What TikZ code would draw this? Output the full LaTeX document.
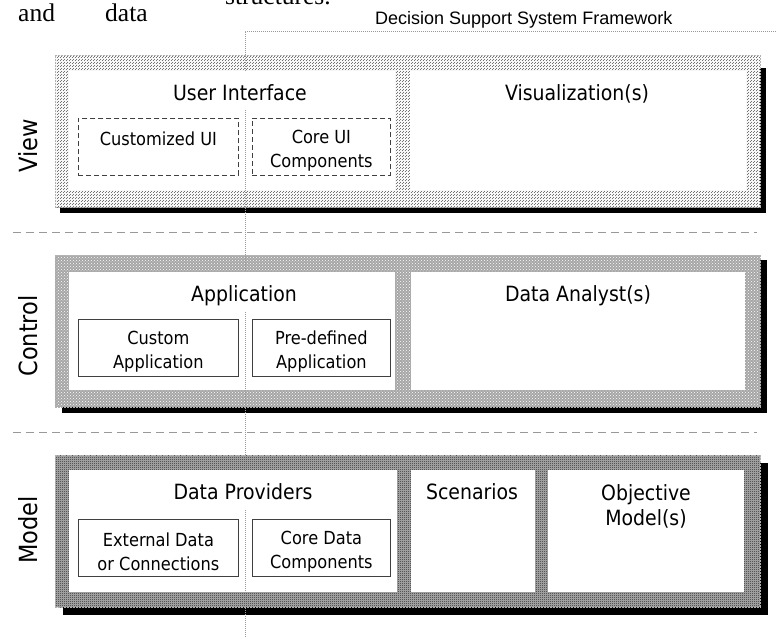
\documentclass[tikz,border=0pt]{standalone}
\usepackage{fontspec}
\setmainfont{DejaVu Sans}[FakeStretch=0.9]
\newfontfamily\serifA{Liberation Serif}
\newfontfamily\arialA{Liberation Sans}
\usetikzlibrary{patterns}
\pgfdeclarepatternformonly{finecheck}{\pgfqpoint{0pt}{0pt}}{\pgfqpoint{2pt}{2pt}}{\pgfqpoint{2pt}{2pt}}{%
  \pgfpathrectangle{\pgfqpoint{0pt}{0pt}}{\pgfqpoint{1pt}{1pt}}%
  \pgfpathrectangle{\pgfqpoint{1pt}{1pt}}{\pgfqpoint{1pt}{1pt}}%
  \pgfusepath{fill}}
\pgfdeclarepatternformonly{finedots}{\pgfqpoint{0pt}{0pt}}{\pgfqpoint{3pt}{3pt}}{\pgfqpoint{3pt}{3pt}}{%
  \pgfpathrectangle{\pgfqpoint{0pt}{0pt}}{\pgfqpoint{1pt}{1pt}}%
  \pgfpathrectangle{\pgfqpoint{1.5pt}{1.5pt}}{\pgfqpoint{1pt}{1pt}}%
  \pgfusepath{fill}}
\begin{document}
\begin{tikzpicture}[x=1pt,y=-1pt,
  shadowbox/.style={fill=black},
  layerbox/.style={draw=gray!60, line width=0.8pt, dash pattern=on 2pt off 1pt, minimum width=705pt, minimum height=152pt, anchor=north west, inner sep=0pt},
  viewfill/.style={preaction={fill=gray!6}, pattern=finedots, pattern color=black!55},
  ctrlfill/.style={preaction={fill=gray!70}, pattern=crosshatch dots, pattern color=white},
  modelfill/.style={preaction={fill=gray!62}, pattern=finecheck, pattern color=black!85},
  panel/.style={fill=white, anchor=north west, inner sep=0pt},
  title/.style={fill=white, anchor=north, inner xsep=0pt, inner ysep=0pt, text height=29.5pt, text depth=9.5pt, font=\fontsize{21}{25}\selectfont},
  ibox/.style={draw=black!75, line width=0.8pt, minimum height=57pt, inner sep=0pt, anchor=north west},
  itext/.style={align=center, font=\fontsize{18}{24}\selectfont, inner sep=0pt, yshift=-4pt},
  dbox/.style={ibox, dashed, dash pattern=on 5pt off 3pt},
  side/.style={rotate=90, font=\fontsize{25}{30}\selectfont},
  sep/.style={draw=gray!80, line width=0.8pt, dash pattern=on 8pt off 5pt},
  frame/.style={draw=gray!80, line width=0.7pt, dash pattern=on 1pt off 1pt}
]
\useasboundingbox (0,0) rectangle (776,637);

% top text fragments
\node[font=\serifA\fontsize{25.5}{30}\selectfont, anchor=base west, inner sep=0pt] (tAnd) at (18,21) {and};
\node[font=\serifA\fontsize{25.5}{30}\selectfont, anchor=base west, inner sep=0pt] (tData) at (105,21) {data};
\node[font=\serifA\fontsize{25.5}{30}\selectfont, anchor=base west, inner sep=0pt] (tStruct) at (225,5) {structures.};
\node[font=\arialA\fontsize{18}{22}\selectfont, anchor=base west, inner sep=0pt] (fwT) at (375,24) {Decision Support System Framework};

% separators
\coordinate (s1a) at (13,232); \coordinate (s1b) at (757,232);
\coordinate (s2a) at (13,432); \coordinate (s2b) at (757,432);
\draw[sep] (s1a) -- (s1b);
\draw[sep] (s2a) -- (s2b);

% View layer
\fill[shadowbox] (60,68) rectangle (766,213);
\node[layerbox, viewfill] (view) at (55,55) {};
\node[panel, minimum width=326pt, minimum height=119pt] (ui) at (69,71) {};
\node[panel, minimum width=336pt, minimum height=119pt] (vis) at (410,71) {};

% Control layer
\fill[shadowbox] (62,260) rectangle (767,413);
\node[layerbox, ctrlfill] (ctrl) at (55,255) {};
\node[panel, minimum width=326pt, minimum height=118pt] (app) at (69,272) {};
\node[panel, minimum width=334pt, minimum height=118pt] (da) at (411,272) {};

% Model layer
\fill[shadowbox] (63,463) rectangle (768,615);
\node[layerbox, modelfill] (model) at (55,455) {};
\node[panel, minimum width=328pt, minimum height=122pt] (dp) at (69,470) {};
\node[panel, minimum width=124pt, minimum height=122pt] (sc) at (411,470) {};
\node[panel, minimum width=196pt, minimum height=122pt] (obj) at (548,470) {};

% framework boundary
\coordinate (fTop) at (245,31);
\coordinate (fRight) at (776,31);
\coordinate (fBot) at (245,637);
\draw[frame] (fRight) -- (fTop) -- (fBot);

% titles
\node[title, minimum width=300pt] (uiT) at (240,71) {User Interface};
\node[title] (visT) at (577,71) {Visualization(s)};
\node[title, minimum width=300pt] (appT) at (244,272) {Application};
\node[title] (daT) at (578,272) {Data Analyst(s)};
\node[title, minimum width=300pt] (dpT) at (243,470) {Data Providers};
\node[title] (scT) at (472,470) {Scenarios};
\node[anchor=north, inner sep=0pt, align=center, font=\fontsize{21}{25}\selectfont] (objT) at (646,484) {Objective\\Model(s)};

% inner boxes
\node[dbox, minimum width=160pt] (cui) at (78,118) {};
\node[itext] (cuiT) at (cui.center) {Customized UI\\ \mbox{}};
\node[dbox, minimum width=138pt] (coreui) at (252,118) {};
\node[itext] (coreuiT) at (coreui.center) {Core UI\\Components};
\node[ibox, minimum width=160pt] (capp) at (78,319) {};
\node[itext] (cappT) at (capp.center) {Custom\\Application};
\node[ibox, minimum width=138pt] (papp) at (252,319) {};
\node[itext] (pappT) at (papp.center) {Pre-defined\\Application};
\node[ibox, minimum width=160pt] (ext) at (78,519) {};
\node[itext] (extT) at (ext.center) {External Data\\or Connections};
\node[ibox, minimum width=138pt] (cdc) at (252,519) {};
\node[itext] (cdcT) at (cdc.center) {Core Data\\Components};

% side labels
\node[side] (viewL) at (28,146) {View};
\node[side] (ctrlL) at (28,336) {Control};
\node[side] (modelL) at (28,530) {Model};
\end{tikzpicture}
\end{document}
